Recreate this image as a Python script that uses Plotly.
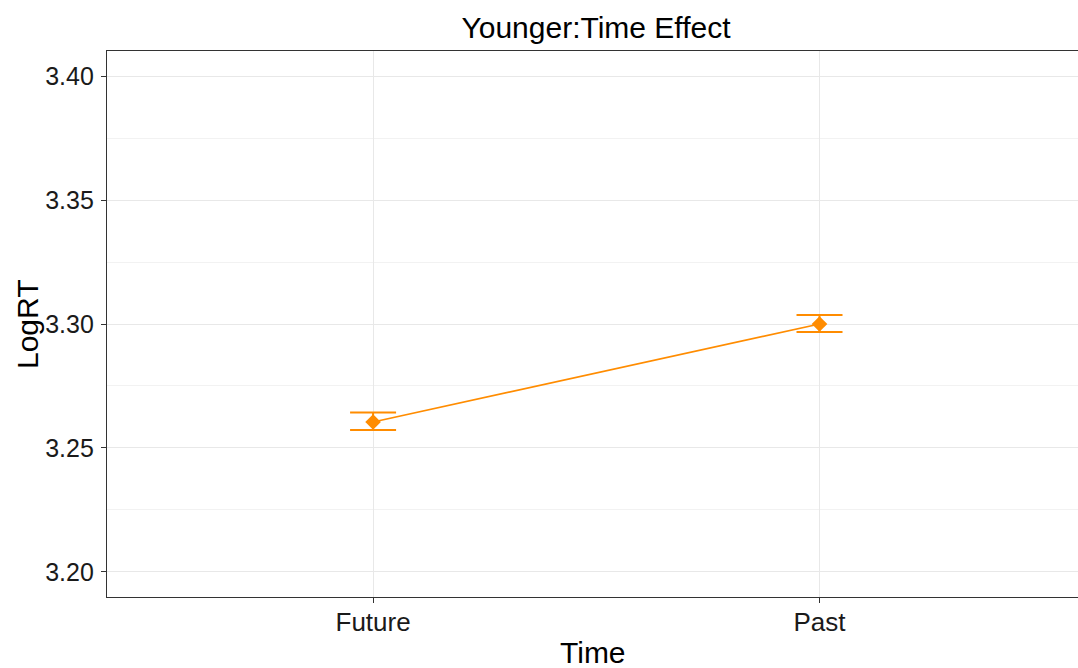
import plotly.graph_objects as go

# Estimated marginal means of LogRT by Time (younger group)
times = ["Future", "Past"]
log_rt = [3.2605, 3.3000]
upper = [3.2643, 3.3036]
lower = [3.2573, 3.2968]

y_ticks = [3.20, 3.25, 3.30, 3.35, 3.40]
y_tick_labels = ["3.20", "3.25", "3.30", "3.35", "3.40"]

err_plus = [u - m for u, m in zip(upper, log_rt)]
err_minus = [m - l for m, l in zip(log_rt, lower)]

ORANGE = "#FF8C00"
FONT = "Liberation Sans, Arial, sans-serif"

fig = go.Figure()
fig.add_trace(go.Scatter(
    x=times,
    y=log_rt,
    mode="lines+markers",
    line=dict(color=ORANGE, width=1.6),
    marker=dict(symbol="diamond", size=12, color=ORANGE),
    error_y=dict(
        type="data",
        symmetric=False,
        array=err_plus,
        arrayminus=err_minus,
        color=ORANGE,
        thickness=2,
        width=23,
    ),
    showlegend=False,
))

fig.update_layout(
    width=1078,
    height=668,
    margin=dict(l=107, r=0, t=51, b=71),
    paper_bgcolor="white",
    plot_bgcolor="white",
    font=dict(family=FONT, color="#000000"),
    title=dict(
        text="Younger:Time Effect",
        x=(107 + 1085) / 2 / 1078,
        xanchor="center",
        y=1 - 27 / 668,
        yanchor="middle",
        yref="container",
        font=dict(size=30, color="#000000", family=FONT),
    ),
    xaxis=dict(
        type="category",
        range=[-0.596, 1.579],
        showgrid=True,
        gridcolor="#e8e8e8",
        gridwidth=1.4,
        showline=True,
        mirror=True,
        linecolor="#333333",
        linewidth=1.3,
        ticks="outside",
        ticklen=5,
        tickwidth=1.3,
        tickcolor="#333333",
        ticklabelstandoff=-3,
        tickfont=dict(size=26, color="#1a1a1a", family=FONT),
        zeroline=False,
    ),
    yaxis=dict(
        range=[3.1899, 3.4101],
        tickvals=y_ticks,
        ticktext=y_tick_labels,
        showgrid=True,
        gridcolor="#e8e8e8",
        gridwidth=1.4,
        minor=dict(dtick=0.025, tick0=3.175, showgrid=True,
                   gridcolor="#f2f2f2", gridwidth=1.2),
        showline=True,
        mirror=False,
        linecolor="#333333",
        linewidth=1.3,
        ticks="outside",
        ticklen=5,
        tickwidth=1.3,
        tickcolor="#333333",
        ticklabelstandoff=2,
        tickfont=dict(size=25, color="#1a1a1a", family=FONT),
        zeroline=False,
    ),
    annotations=[
        dict(text="Time", xref="paper", yref="paper", x=0.5, y=0,
             xanchor="center", yanchor="middle", yshift=-55,
             showarrow=False, font=dict(size=30, color="#000000", family=FONT)),
        dict(text="LogRT", xref="paper", yref="paper", x=0, y=0.5,
             xanchor="center", yanchor="middle", xshift=-80, textangle=-90,
             showarrow=False, font=dict(size=30, color="#000000", family=FONT)),
    ],
)

fig.write_html("out.html")
